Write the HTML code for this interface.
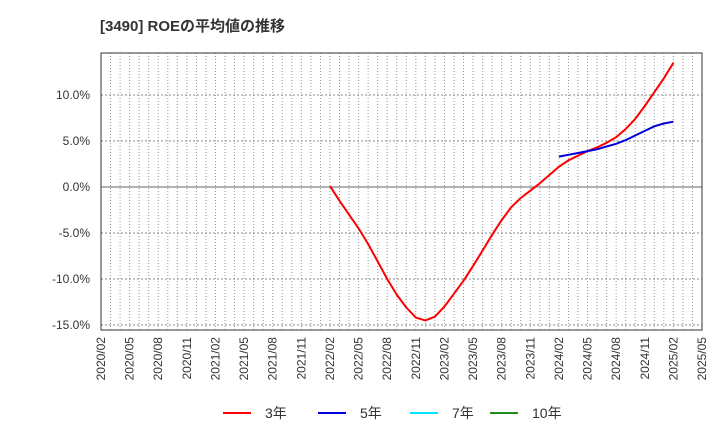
<!DOCTYPE html>
<html><head><meta charset="utf-8"><style>
body{margin:0;background:#fff;font-family:"Liberation Sans","Noto Sans CJK JP",sans-serif;}
</style></head><body>
<svg width="720" height="440" xmlns="http://www.w3.org/2000/svg" font-family="Liberation Sans, Noto Sans CJK JP, sans-serif">
<text x="100" y="31" font-size="15" font-weight="bold" fill="#333">[3490]  ROEの平均値の推移</text>
<g id="grid"></g><g id="axes"></g><g id="series"></g>
<g font-size="14" fill="#333">
<line x1="223" y1="413" x2="251" y2="413" stroke="#ff0000" stroke-width="2"/><text x="265" y="418">3年</text>
<line x1="318" y1="413" x2="346" y2="413" stroke="#0000dd" stroke-width="2"/><text x="360" y="418">5年</text>
<line x1="410" y1="413" x2="438" y2="413" stroke="#00e5ff" stroke-width="2"/><text x="452" y="418">7年</text>
<line x1="490" y1="413" x2="518" y2="413" stroke="#228b22" stroke-width="2"/><text x="532" y="418">10年</text>
</g>
</svg>
<script>
const xTickLabels=["2020/02","2020/05","2020/08","2020/11","2021/02","2021/05","2021/08","2021/11","2022/02","2022/05","2022/08","2022/11","2023/02","2023/05","2023/08","2023/11","2024/02","2024/05","2024/08","2024/11","2025/02","2025/05"];
const yTicks=[10,5,0,-5,-10,-15];
const red3yStart=24;
const red3y=[0.1,-1.5,-3.0,-4.5,-6.2,-8.1,-10.0,-11.7,-13.1,-14.2,-14.5,-14.1,-13.0,-11.6,-10.2,-8.6,-6.9,-5.2,-3.6,-2.2,-1.2,-0.4,0.4,1.3,2.2,2.9,3.4,3.9,4.3,4.8,5.4,6.3,7.4,8.8,10.3,11.8,13.5];
const blue5yStart=48;
const blue5y=[3.3,3.5,3.7,3.9,4.1,4.4,4.7,5.1,5.6,6.1,6.6,6.9,7.1];
const NS="http://www.w3.org/2000/svg";
const L=101,R=702,T=53,B=330;
const xS=m=>L+m*(R-L)/63;
const yS=v=>187-v*9.2;
function mk(tag,attrs,parent){const e=document.createElementNS(NS,tag);for(const k in attrs)e.setAttribute(k,attrs[k]);parent.appendChild(e);return e;}
const grid=document.getElementById('grid'),axes=document.getElementById('axes'),series=document.getElementById('series');
for(let m=1;m<63;m++){const l=mk('line',{x1:xS(m),y1:T,x2:xS(m),y2:B,stroke:'#999','stroke-dasharray':'1,2'},grid);

}
yTicks.forEach(v=>{const y=yS(v);
const l=mk('line',{x1:L,y1:y,x2:R,y2:y,stroke:v===0?'#666':'#888','stroke-dasharray':v===0?'':'2,2'},grid);


const t=mk('text',{x:90,y:y+4,'text-anchor':'end','font-size':12,fill:'#333'},axes);t.textContent=v.toFixed(1)+'%';

});
const fr=mk('rect',{x:L,y:T,width:R-L,height:B-T,fill:'none',stroke:'#333'},axes);


xTickLabels.forEach((s,i)=>{const x=xS(i*3);
const t=mk('text',{x:0,y:0,transform:`translate(${x+4},337) rotate(-90)`,'text-anchor':'end','font-size':12,fill:'#333'},axes);t.textContent=s;

});
function line(data,start,color,name){const pts=data.map((v,i)=>xS(start+i).toFixed(1)+','+yS(v).toFixed(1)).join(' ');
const p=mk('polyline',{points:pts,fill:'none',stroke:color,'stroke-width':2,'stroke-linejoin':'round'},series);

}
line(red3y,red3yStart,'#ff0000','series-3y');
line(blue5y,blue5yStart,'#0000dd','series-5y');
</script>
</body></html>
